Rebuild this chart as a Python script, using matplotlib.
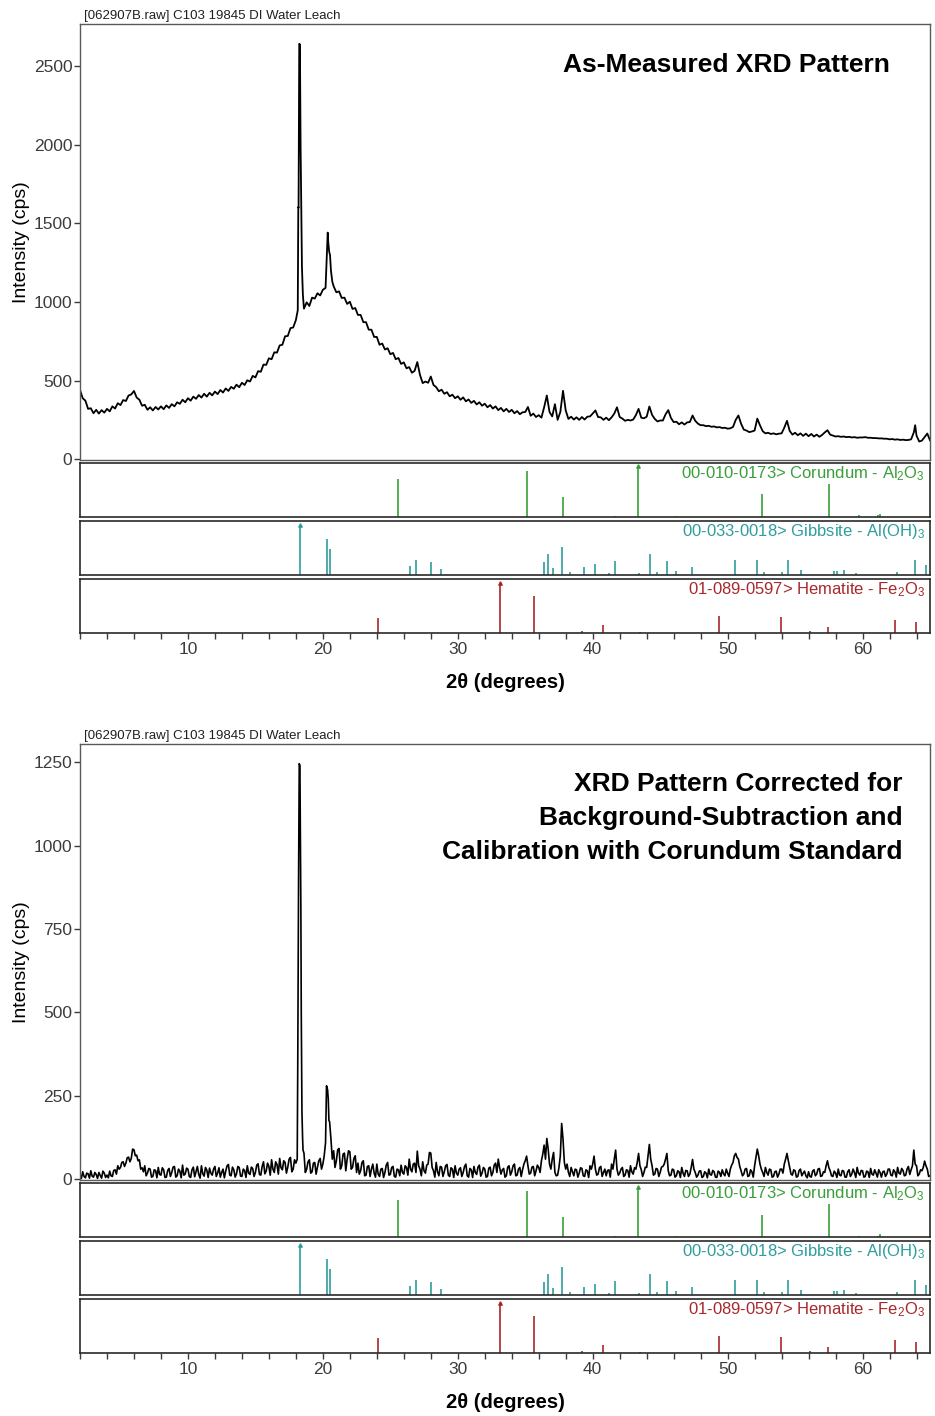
"""XRD patterns of the C103 19845 DI water leach with reference stick patterns."""

import matplotlib

matplotlib.use("Agg")
import matplotlib.pyplot as plt
import numpy as np
from matplotlib.ticker import FuncFormatter, MultipleLocator


FIG_W, FIG_H, DPI = 935, 1416, 100

PALETTE = {
    "ink": "#000000",
    "frame": "#5a5a5a",
    "tick": "#3c3c3c",
    "corundum": "#3a9f3a",
    "gibbsite": "#2f9d9d",
    "hematite": "#a8282c",
}

SCAN_START, SCAN_STOP = 2.0, 65.0

# as-measured counts, 0.2 deg steps from 2.0 deg, one row = 2 degrees
AS_MEASURED_STEP = 0.2
AS_MEASURED_CPS = [
    440, 388, 372, 320, 324, 292, 314, 290, 312, 296,
    320, 304, 336, 322, 356, 344, 376, 370, 405, 412,
    434, 392, 378, 340, 346, 314, 330, 310, 332, 316,
    336, 318, 342, 326, 350, 336, 362, 352, 378, 362,
    388, 372, 398, 384, 408, 392, 416, 398, 422, 406,
    430, 414, 440, 424, 450, 434, 460, 448, 474, 458,
    486, 472, 502, 494, 530, 520, 560, 556, 602, 600,
    642, 636, 680, 678, 724, 728, 782, 784, 834, 838,
    885, 1600, 1600, 958, 998, 975, 1028, 1022, 1056, 1042,
    1078, 1090, 1380, 1200, 1100, 1062, 1068, 1026, 1028, 988,
    1002, 956, 962, 918, 918, 872, 872, 824, 824, 778,
    778, 728, 736, 698, 706, 668, 676, 636, 644, 606,
    616, 578, 586, 550, 562, 618, 536, 484, 494, 486,
    526, 472, 458, 432, 442, 416, 426, 400, 410, 388,
    400, 378, 393, 368, 380, 358, 371, 348, 362, 340,
    353, 330, 344, 322, 336, 312, 326, 304, 320, 300,
    314, 292, 306, 286, 298, 300, 332, 276, 290, 268,
    280, 264, 330, 405, 300, 272, 350, 250, 300, 435,
    310, 256, 270, 252, 266, 250, 268, 252, 270, 272,
    290, 310, 268, 266, 250, 264, 248, 266, 290, 330,
    268, 258, 244, 250, 246, 252, 280, 320, 264, 260,
    270, 335, 282, 256, 240, 246, 246, 285, 312, 262,
    236, 238, 222, 234, 220, 234, 236, 278, 244, 226,
    216, 216, 210, 212, 206, 208, 202, 204, 198, 200,
    194, 196, 205, 250, 278, 225, 188, 182, 172, 176,
    182, 258, 215, 178, 164, 168, 160, 164, 158, 162,
    164, 200, 244, 180, 156, 168, 152, 164, 148, 162,
    146, 160, 144, 156, 142, 154, 170, 184, 156, 150,
    144, 146, 142, 144, 140, 142, 138, 140, 136, 138,
    138, 140, 136, 136, 134, 134, 132, 132, 130, 130,
    126, 128, 124, 126, 122, 124, 121, 122, 126, 170,
    150, 112, 118, 140, 163, 120,
]
# extra points on the sharp reflections
AS_MEASURED_PEAK_2THETA = [18.14, 18.18, 18.25, 18.30, 18.35, 18.45, 18.52,
                           20.30, 20.36, 20.47, 20.53, 20.70, 63.90]
AS_MEASURED_PEAK_CPS = [948, 1604, 2644, 2640, 1990, 1225, 1045,
                        1300, 1442, 1320, 1300, 1130, 216]

# background-subtracted, corundum-calibrated counts, 0.1 deg steps, one row = 2 degrees
CORRECTED_STEP = 0.1
CORRECTED_CPS = [
    10, 2, 22, 8, 4, 18, 16, 3, 25, 9, 6, 20, 14, 2, 20, 11, 3, 24, 18, 5,
    12, 4, 24, 10, 8, 26, 28, 15, 40, 30, 35, 50, 52, 38, 48, 64, 66, 52, 62, 90,
    88, 70, 72, 55, 58, 30, 34, 22, 40, 10, 18, 32, 30, 6, 8, 28, 26, 4, 35, 14,
    12, 34, 28, 5, 6, 26, 32, 8, 20, 36, 38, 6, 10, 30, 24, 4, 42, 12, 15, 33,
    30, 8, 5, 28, 36, 7, 22, 38, 14, 3, 40, 16, 9, 35, 27, 5, 33, 18, 12, 30,
    38, 8, 18, 34, 6, 20, 30, 4, 24, 40, 44, 12, 10, 36, 28, 6, 16, 38, 35, 9,
    8, 30, 26, 5, 40, 18, 14, 36, 32, 8, 20, 42, 46, 14, 12, 38, 52, 16, 24, 48,
    38, 12, 58, 30, 20, 52, 44, 15, 62, 34, 28, 55, 50, 18, 36, 60, 65, 22, 30, 58,
    48, 60, 900, 1240, 500, 120, 78, 20, 30, 52, 58, 18, 22, 48, 50, 15, 36, 55, 62, 30,
    45, 70, 110, 276, 240, 172, 120, 60, 85, 35, 55, 88, 92, 30, 40, 75, 78, 25, 60, 85,
    82, 30, 35, 62, 70, 20, 48, 15, 25, 50, 55, 10, 12, 38, 40, 8, 30, 45, 18, 6,
    45, 15, 8, 30, 32, 5, 20, 42, 50, 12, 14, 35, 38, 8, 6, 30, 28, 10, 42, 20,
    15, 40, 35, 12, 60, 30, 22, 45, 48, 20, 84, 40, 30, 10, 52, 25, 18, 42, 45, 80,
    78, 35, 25, 6, 50, 22, 10, 38, 36, 8, 22, 40, 44, 12, 8, 34, 30, 5, 40, 18,
    12, 30, 34, 8, 20, 38, 45, 10, 6, 32, 28, 5, 38, 20, 14, 36, 42, 9, 18, 35,
    30, 6, 8, 33, 36, 10, 20, 42, 48, 20, 60, 35, 15, 28, 32, 6, 10, 36, 40, 12,
    22, 40, 45, 10, 12, 30, 35, 8, 28, 45, 55, 69, 40, 15, 18, 36, 38, 10, 25, 42,
    35, 20, 55, 75, 102, 60, 122, 90, 45, 30, 60, 80, 20, 10, 12, 35, 70, 167, 120, 50,
    30, 45, 20, 8, 35, 22, 10, 30, 28, 6, 18, 34, 32, 10, 8, 28, 25, 5, 40, 30,
    45, 69, 30, 12, 15, 34, 38, 8, 20, 30, 10, 26, 28, 6, 45, 30, 60, 87, 30, 12,
    18, 30, 35, 8, 12, 28, 26, 6, 40, 22, 15, 34, 30, 50, 77, 40, 28, 8, 20, 36,
    35, 70, 104, 60, 40, 12, 15, 32, 30, 8, 20, 36, 38, 45, 60, 77, 25, 10, 12, 30,
    28, 6, 10, 25, 22, 5, 35, 18, 8, 26, 25, 8, 15, 35, 59, 30, 20, 6, 12, 24,
    25, 5, 8, 22, 18, 4, 30, 14, 12, 26, 22, 6, 5, 24, 20, 8, 28, 16, 10, 30,
    18, 8, 30, 42, 50, 70, 77, 65, 60, 38, 25, 10, 15, 30, 32, 8, 10, 28, 22, 6,
    40, 65, 90, 70, 45, 30, 20, 8, 35, 20, 12, 30, 28, 6, 8, 22, 24, 6, 15, 30,
    30, 18, 45, 60, 77, 55, 35, 15, 12, 28, 25, 6, 8, 26, 30, 10, 18, 24, 10, 4,
    22, 8, 6, 24, 28, 10, 15, 30, 32, 8, 10, 22, 20, 40, 55, 35, 25, 10, 8, 24,
    18, 5, 30, 12, 10, 26, 24, 6, 6, 22, 28, 8, 15, 30, 20, 5, 35, 18, 12, 26,
    25, 6, 8, 24, 22, 5, 32, 15, 12, 28, 18, 6, 28, 20, 6, 22, 24, 8, 15, 30,
    30, 12, 10, 28, 22, 6, 35, 18, 15, 32, 26, 10, 12, 30, 38, 14, 28, 40, 87, 45,
    40, 10, 15, 28, 25, 35, 54, 40, 30, 8, 10,
]
CORRECTED_PEAK_2THETA = [18.14, 18.25, 18.37, 18.45, 18.53, 20.27, 20.35, 20.45]
CORRECTED_PEAK_CPS = [347, 1246, 811, 202, 87, 280, 268, 176]

# reference patterns: 2-theta and relative intensity (%)
CORUNDUM_2THETA = [25.58, 35.15, 37.78, 41.68, 43.36, 46.18, 52.55, 57.50, 59.74, 61.12, 61.30]
CORUNDUM_INT = [75, 92, 40, 2, 100, 2, 45, 66, 3, 3, 6]

GIBBSITE_2THETA = [18.31, 20.29, 20.53, 26.49, 26.88, 28.02, 28.74, 36.42, 36.67, 37.06,
                   37.71, 38.35, 39.38, 40.18, 41.19, 41.68, 43.44, 44.23, 44.77, 45.49,
                   46.20, 47.34, 50.58, 52.19, 52.73, 54.02, 54.48, 55.42, 57.89, 58.07,
                   58.64, 59.55, 62.59, 63.88, 64.74]
GIBBSITE_INT = [100, 72, 52, 18, 30, 26, 13, 27, 42, 15,
                57, 6, 16, 22, 4, 29, 5, 42, 6, 29,
                8, 16, 31, 31, 6, 6, 31, 10, 8, 8,
                10, 5, 6, 31, 21]

HEMATITE_2THETA = [24.12, 33.11, 35.63, 39.19, 40.79, 43.51, 49.39, 53.97, 56.14, 57.47, 62.42, 63.95]
HEMATITE_INT = [31, 100, 75, 4, 16, 3, 35, 33, 4, 12, 27, 22]

PHASE_LABELS = [
    "00-010-0173> Corundum - Al$_2$O$_3$",
    "00-033-0018> Gibbsite - Al(OH)$_3$",
    "01-089-0597> Hematite - Fe$_2$O$_3$",
]

HEADER = "[062907B.raw] C103 19845 DI Water Leach"


def set_figure_style() -> None:
    plt.rcParams.update(
        {
            "font.family": ["Liberation Sans", "DejaVu Sans"],
            "mathtext.fontset": "custom",
            "mathtext.rm": "Liberation Sans",
            "mathtext.default": "regular",
            "axes.linewidth": 1.0,
            "xtick.color": PALETTE["tick"],
            "ytick.color": PALETTE["tick"],
            "xtick.labelsize": 12.5,
            "ytick.labelsize": 12.5,
        }
    )


def px_rect(top: float, bottom: float, left: float = 80, right: float = 930) -> list[float]:
    """Axes rectangle from pixel edges (origin top-left)."""
    return [left / FIG_W, 1 - bottom / FIG_H, (right - left) / FIG_W, (bottom - top) / FIG_H]


def merge_scan(grid_cps, step, peak_tt, peak_cps):
    tt = np.round(np.arange(SCAN_START, SCAN_STOP + step / 2, step), 2)
    assert len(tt) == len(grid_cps), (len(tt), len(grid_cps))
    x = np.concatenate([tt, peak_tt])
    y = np.concatenate([np.asarray(grid_cps, float), peak_cps])
    order = np.argsort(x, kind="stable")
    return x[order], y[order]


def draw_block(fig, top_px, tt, cps, line_width, ymax, ystep, title_lines, title_right_px, title_y_px):
    main = fig.add_axes(px_rect(top_px, top_px + 436))
    main.plot(tt, cps, color=PALETTE["ink"], lw=line_width)
    main.set_xlim(SCAN_START, SCAN_STOP)
    main.set_ylim(-ymax * 0.002, ymax)
    main.yaxis.set_major_locator(MultipleLocator(ystep))
    main.tick_params(axis="y", direction="out", length=4, width=1, pad=1.5)
    main.tick_params(axis="x", bottom=False, labelbottom=False)
    for spine in main.spines.values():
        spine.set_color(PALETTE["frame"])

    fig.text(84 / FIG_W, 1 - (top_px - 8) / FIG_H, HEADER, fontsize=9.5,
             ha="left", va="center", color="#202020")
    fig.text(22 / FIG_W, 1 - (top_px + 218) / FIG_H, "Intensity (cps)", fontsize=14,
             rotation=90, ha="center", va="center")
    for idx, line in enumerate(title_lines):
        fig.text(title_right_px / FIG_W, 1 - (title_y_px + 34 * idx) / FIG_H, line,
                 fontsize=19, fontweight="bold", ha="right", va="center")

    phases = [
        (CORUNDUM_2THETA, CORUNDUM_INT, PALETTE["corundum"]),
        (GIBBSITE_2THETA, GIBBSITE_INT, PALETTE["gibbsite"]),
        (HEMATITE_2THETA, HEMATITE_INT, PALETTE["hematite"]),
    ]
    sub_top = top_px + 439
    for idx, ((pos, rel, color), label) in enumerate(zip(phases, PHASE_LABELS)):
        ax = fig.add_axes(px_rect(sub_top + idx * 58, sub_top + idx * 58 + 54))
        ax.vlines(pos, 0, rel, colors=color, lw=1.2)
        k = int(np.argmax(rel))
        ax.plot(pos[k], rel[k] + 1.0, marker="^", ms=2.5, color=color)
        ax.set_xlim(SCAN_START, SCAN_STOP)
        ax.set_ylim(0, 108)
        ax.set_yticks([])
        ax.text(0.994, 0.8, label, transform=ax.transAxes, ha="right", va="center",
                fontsize=12, color=color)
        for spine in ax.spines.values():
            spine.set_color("#2a2a2a")
            spine.set_linewidth(1.2)
        if idx < 2:
            ax.tick_params(axis="x", bottom=False, labelbottom=False)
        else:
            ax.xaxis.set_major_locator(MultipleLocator(10))
            ax.xaxis.set_minor_locator(MultipleLocator(2))
            ax.xaxis.set_major_formatter(FuncFormatter(lambda v, _: f"{v:.0f}"))
            ax.tick_params(axis="x", which="both", direction="out", length=4, width=1, pad=2.5)
    fig.text(505 / FIG_W, 1 - (top_px + 658) / FIG_H, "2\u03b8 (degrees)", fontsize=14.5,
             fontweight="bold", ha="center", va="center")


def main() -> None:
    set_figure_style()
    fig = plt.figure(figsize=(FIG_W / DPI, FIG_H / DPI), dpi=DPI)

    tt, cps = merge_scan(AS_MEASURED_CPS, AS_MEASURED_STEP,
                         AS_MEASURED_PEAK_2THETA, AS_MEASURED_PEAK_CPS)
    draw_block(fig, 24, tt, cps, 1.3, 2770, 500, ["As-Measured XRD Pattern"], 890, 65)

    tt, cps = merge_scan(CORRECTED_CPS, CORRECTED_STEP,
                         CORRECTED_PEAK_2THETA, CORRECTED_PEAK_CPS)
    draw_block(
        fig, 744, tt, cps, 1.2, 1305, 250,
        ["XRD Pattern Corrected for", "Background-Subtraction and",
         "Calibration with Corundum Standard"],
        903, 784,
    )

    fig.savefig("out.png", dpi=DPI)
    plt.close(fig)


if __name__ == "__main__":
    main()
